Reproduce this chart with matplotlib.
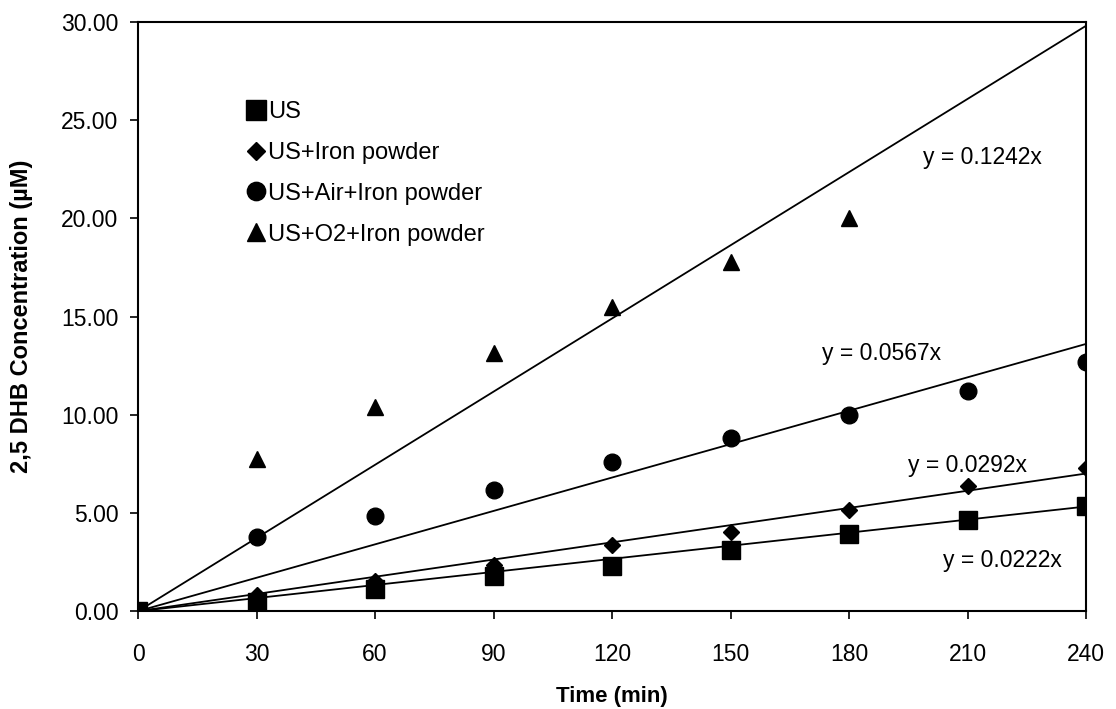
import numpy as np
import matplotlib
matplotlib.use("Agg")
import matplotlib.pyplot as plt

plt.rcParams['font.family'] = ['Liberation Sans', 'DejaVu Sans']

# time points (min)
time = [0, 30, 60, 90, 120, 150, 180, 210, 240]
# measured 2,5 DHB concentrations (uM)
us = [0, 0.45, 1.15, 1.8, 2.3, 3.1, 3.95, 4.65, 5.35]
us_iron = [0, 0.8, 1.55, 2.35, 3.35, 4.05, 5.15, 6.35, 7.3]
us_air_iron = [0, 3.8, 4.85, 6.15, 7.6, 8.8, 10.0, 11.2, 12.7]
us_o2_iron = [0, 7.75, 10.4, 13.15, 15.5, 17.8, 20.0]
time_o2 = [0, 30, 60, 90, 120, 150, 180]
# fitted slopes of the trend lines through origin
slopes = [0.0222, 0.0292, 0.0567, 0.1242]
labels = ["US", "US+Iron powder", "US+Air+Iron powder", "US+O2+Iron powder"]

fig = plt.figure(figsize=(11.16, 7.09), dpi=100)
ax = fig.add_axes([0.1237, 0.138, 0.8495, 0.831])

ax.plot(time, us, 's', color='black', markersize=13, label=labels[0], zorder=3)
ax.plot(time, us_iron, 'D', color='black', markersize=8.5, label=labels[1], zorder=3)
ax.plot(time, us_air_iron, 'o', color='black', markersize=12, label=labels[2], zorder=3)
ax.plot(time_o2, us_o2_iron, '^', color='black', markersize=12, label=labels[3], zorder=3)

# trend lines y = a*x
xfit = np.array([0, 240])
for a in slopes:
    ax.plot(xfit, a * xfit, '-', color='black', linewidth=1.3, zorder=2)

# equation labels
ax.text(198.7, 23.1, "y = 0.1242x", fontsize=16.5, va='center', ha='left')
ax.text(173.2, 13.1, "y = 0.0567x", fontsize=16.5, va='center', ha='left')
ax.text(195.0, 7.44, "y = 0.0292x", fontsize=16.5, va='center', ha='left')
ax.text(203.8, 2.6, "y = 0.0222x", fontsize=16.5, va='center', ha='left')

ax.set_xlim(0, 240)
ax.set_ylim(0, 30)
ax.set_xticks(time)
ax.set_yticks(np.arange(0, 31, 5))
ax.set_yticklabels([f"{v:.2f}" for v in np.arange(0, 31, 5)])
ax.tick_params(axis='both', direction='out', length=6, width=1.2, labelsize=16.5, colors='black')
ax.tick_params(axis='x', pad=17)
ax.tick_params(axis='y', pad=8)
for s in ax.spines.values():
    s.set_linewidth(1.5)
    s.set_color('black')

ax.set_xlabel("Time (min)", fontsize=16, fontweight='bold', labelpad=14)
ax.set_ylabel("2,5 DHB Concentration (\u00b5M)", fontsize=17, fontweight='bold', labelpad=20)

leg = ax.legend(loc='upper left', bbox_to_anchor=(0.1, 0.882), frameon=False, fontsize=17,
                handletextpad=-0.1, labelspacing=0.8, handlelength=1.2, borderaxespad=0,
                markerscale=1.1)

fig.savefig("out.png", dpi=100)
